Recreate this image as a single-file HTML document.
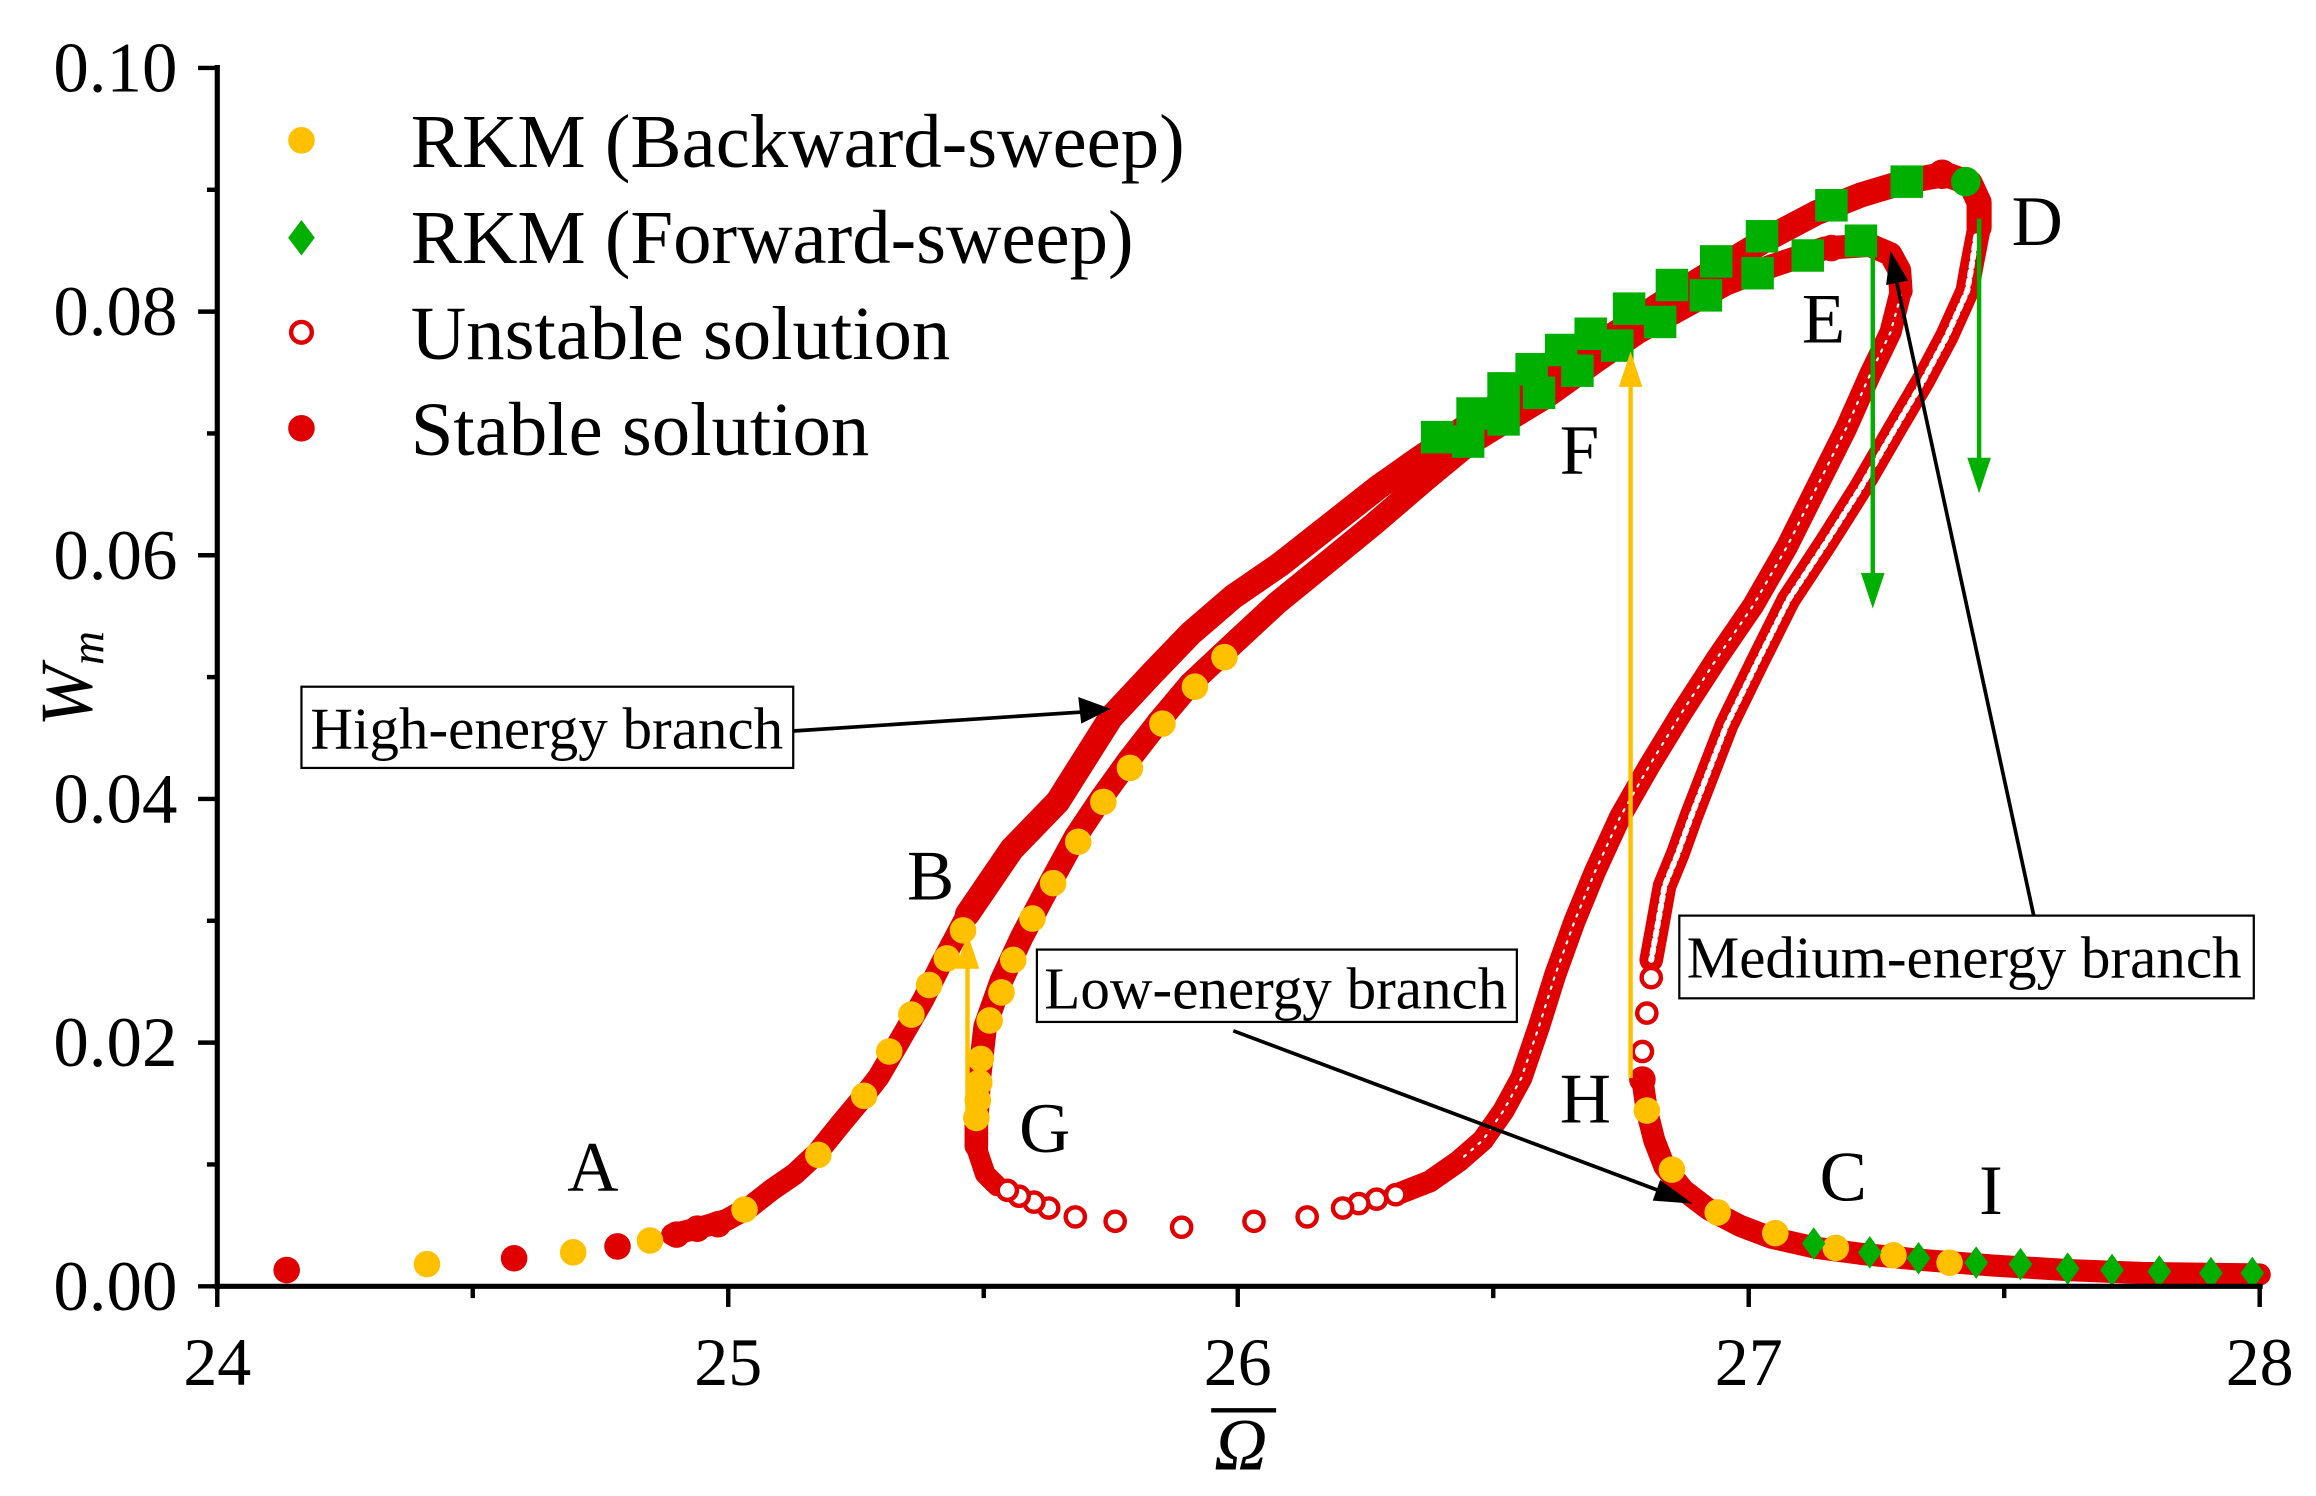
<!DOCTYPE html>
<html><head><meta charset="utf-8"><style>
html,body{margin:0;padding:0;background:#fff}
svg{display:block}
text{font-family:"Liberation Serif",serif;fill:#000}
</style></head><body>
<svg width="2316" height="1496" viewBox="0 0 1568 1013" xmlns="http://www.w3.org/2000/svg">
<g fill="none" stroke-linejoin="round" stroke-linecap="round">
<!-- outer high branch -->
<polyline stroke="#e00000" stroke-width="15" points="455,836 475,831 492,826 508,817 522,806 538,795 553,781 570,760 585,742 595,729 610,703 625,677 637,653 655,619"/>
<polyline stroke="#e00000" stroke-width="17" points="655,619 685,575 716,543 752,486 780,456 806,429 835,404 867,382 900,356 933,330 960,311 988,292 1020,270 1054,249 1080,234 1103,220 1130,202 1163,182 1196,162 1230,144 1260,132 1290,123 1317,118 1334,124 1340,137 1340,154"/>
<!-- inner branch G -> E -->
<polyline stroke="#e00000" stroke-width="16" points="661,776 661,762 663,730 667,695 678,664 692,634 710,600 728,567 746,540 764,515 785,488 806,463 837,434 865,408 897,382 930,355 965,325 994,301 1020,285 1048,268 1080,245 1109,225 1140,208 1169,192 1200,180 1236,168 1266,166 1280,172 1286,183 1287,197"/>
<!-- medium branch (dense unstable) -->
<polyline stroke="#e00000" stroke-width="15" points="1287,197 1280,225 1266,254 1250,290 1230,330 1210,370 1187,410 1163,445 1139,482 1117,518 1097,553 1080,590 1066,624 1053,660 1042,695 1030,730 1018,752 1004,772 988,786 968,800 945,809"/>
<polyline stroke="#fff" stroke-width="1.5" stroke-dasharray="1.5 5" points="1287,200 1280,225 1266,254 1250,290 1230,330 1210,370 1187,410 1163,445 1139,482 1117,518 1097,553 1080,590 1066,624 1053,660 1042,695 1030,730 1018,752 1004,772 988,786"/>
<polyline stroke="#e00000" stroke-width="14" points="661,762 662,780 667,795 675,803"/>
<!-- D unstable branch -->
<polyline stroke="#e00000" stroke-width="16" points="1340,154 1335,180 1332,197 1318,228 1302,258 1282,292 1260,330 1236,368 1211,406 1190,448 1169,491 1157,522 1145,553 1136,578 1127,600 1122,628 1118,650"/>
<polyline stroke="#fff" stroke-width="4" stroke-dasharray="3 3" points="1338,160 1335,180 1332,197 1318,228 1302,258 1282,292 1260,330 1236,368 1211,406 1190,448 1169,491 1157,522 1145,553 1136,578 1127,600 1122,628 1118,650"/>
<!-- right low stable -->
<polyline stroke="#e00000" stroke-width="15" points="1112,731 1115,752 1120,772 1127,790 1140,806 1157,819 1178,830 1199,838 1230,845 1260,849 1300,853 1350,857 1400,860 1450,862 1530,863"/>
</g>
<!-- sparse open circles -->
<g fill="#fff" stroke="#e00000" stroke-width="3">
<circle cx="1118" cy="662" r="6.5"/><circle cx="1115" cy="686" r="6.5"/><circle cx="1112" cy="712" r="6.5"/>
<circle cx="945" cy="809" r="6.5"/><circle cx="932" cy="812" r="6.5"/><circle cx="920" cy="815" r="6.5"/><circle cx="909" cy="818" r="6.5"/><circle cx="885" cy="824" r="6.5"/><circle cx="849" cy="827" r="6.5"/><circle cx="800" cy="831" r="6.5"/><circle cx="755" cy="827" r="6.5"/><circle cx="728" cy="824" r="6.5"/><circle cx="710" cy="818" r="6.5"/><circle cx="700" cy="814" r="6.5"/><circle cx="690" cy="810" r="6.5"/><circle cx="682" cy="806" r="6.5"/>
</g>
<!-- stable sparse -->
<g fill="#e00000">
<circle cx="194" cy="860" r="9"/><circle cx="348" cy="852" r="9"/><circle cx="418" cy="844" r="9"/><circle cx="458" cy="836" r="9"/><circle cx="472" cy="832" r="9"/><circle cx="486" cy="829" r="9"/>
<circle cx="1315" cy="118" r="10"/><circle cx="1240" cy="168" r="9"/><circle cx="1112" cy="731" r="9"/>
</g>
<!-- yellow -->
<g fill="#ffc000">
<circle cx="289" cy="856" r="9"/><circle cx="388" cy="848" r="9"/><circle cx="440" cy="840" r="9"/><circle cx="504" cy="819" r="9"/><circle cx="554" cy="782" r="9"/><circle cx="585" cy="742" r="9"/><circle cx="602" cy="712" r="9"/><circle cx="617" cy="687" r="9"/><circle cx="629" cy="667" r="9"/><circle cx="641" cy="649" r="9"/><circle cx="652" cy="630" r="9"/>
<circle cx="661" cy="757" r="9"/><circle cx="662" cy="745" r="9"/><circle cx="663" cy="733" r="9"/><circle cx="664" cy="717" r="9"/><circle cx="670" cy="691" r="9"/><circle cx="678" cy="672" r="9"/><circle cx="686" cy="650" r="9"/><circle cx="699" cy="622" r="9"/><circle cx="713" cy="598" r="9"/><circle cx="730" cy="570" r="9"/><circle cx="747" cy="543" r="9"/><circle cx="765" cy="520" r="9"/><circle cx="787" cy="490" r="9"/><circle cx="809" cy="465" r="9"/><circle cx="829" cy="445" r="9"/>
<circle cx="1115" cy="752" r="9"/><circle cx="1132" cy="792" r="9"/><circle cx="1163" cy="821" r="9"/><circle cx="1202" cy="835" r="9"/><circle cx="1243" cy="845" r="9"/><circle cx="1282" cy="850" r="9"/><circle cx="1320" cy="855" r="9"/>
</g>
<!-- green -->
<g fill="#00b000">
<polygon points="1228,831 1236,842 1228,853 1220,842"/><polygon points="1266,837 1274,848 1266,859 1258,848"/><polygon points="1299,841 1307,852 1299,863 1291,852"/><polygon points="1338,844 1346,855 1338,866 1330,855"/><polygon points="1368,845 1376,856 1368,867 1360,856"/><polygon points="1400,848 1408,859 1400,870 1392,859"/><polygon points="1430,849 1438,860 1430,871 1422,860"/><polygon points="1462,850 1470,861 1462,872 1454,861"/><polygon points="1497,851 1505,862 1497,873 1489,862"/><polygon points="1525,851 1533,862 1525,873 1517,862"/>
<circle cx="1331" cy="123" r="10"/>
<rect x="962" y="285" width="22" height="22"/><rect x="986" y="269" width="22" height="22"/><rect x="1007" y="252" width="22" height="22"/><rect x="1026" y="239" width="22" height="22"/><rect x="1046" y="226" width="22" height="22"/><rect x="1066" y="215" width="22" height="22"/><rect x="1092" y="198" width="22" height="22"/><rect x="1121" y="182" width="22" height="22"/><rect x="1151" y="166" width="22" height="22"/><rect x="1182" y="149" width="22" height="22"/><rect x="1229" y="128" width="22" height="22"/><rect x="1280" y="112" width="22" height="22"/>
<rect x="983" y="288" width="22" height="22"/><rect x="1007" y="273" width="22" height="22"/><rect x="1031" y="255" width="22" height="22"/><rect x="1057" y="240" width="22" height="22"/><rect x="1084" y="223" width="22" height="22"/><rect x="1113" y="207" width="22" height="22"/><rect x="1144" y="189" width="22" height="22"/><rect x="1179" y="174" width="22" height="22"/><rect x="1213" y="162" width="22" height="22"/><rect x="1249" y="152" width="22" height="22"/>
</g>
<!-- sweep arrows -->
<g stroke-width="3">
<line x1="1104" y1="730" x2="1104" y2="255" stroke="#ffc000"/>
<line x1="655" y1="760" x2="655" y2="650" stroke="#ffc000"/>
<line x1="1268" y1="170" x2="1268" y2="395" stroke="#00b000"/>
<line x1="1340" y1="148" x2="1340" y2="317" stroke="#00b000"/>
</g>
<polygon points="1104,238 1096,262 1112,262" fill="#ffc000"/>
<polygon points="655,632 647,656 663,656" fill="#ffc000"/>
<polygon points="1268,412 1260,388 1276,388" fill="#00b000"/>
<polygon points="1340,334 1332,310 1348,310" fill="#00b000"/>
<!-- axes -->
<g stroke="#000" stroke-width="3.5" fill="none">
<line x1="147" y1="44" x2="147" y2="873"/>
<line x1="145" y1="871" x2="1532" y2="871"/>
</g>
<g stroke="#000" stroke-width="3">
<line x1="147" y1="871" x2="147" y2="885"/><line x1="320" y1="871" x2="320" y2="879"/><line x1="493" y1="871" x2="493" y2="885"/><line x1="666" y1="871" x2="666" y2="879"/><line x1="838" y1="871" x2="838" y2="885"/><line x1="1011" y1="871" x2="1011" y2="879"/><line x1="1184" y1="871" x2="1184" y2="885"/><line x1="1357" y1="871" x2="1357" y2="879"/><line x1="1530" y1="871" x2="1530" y2="885"/>
<line x1="147" y1="871" x2="134" y2="871"/><line x1="147" y1="788.5" x2="140" y2="788.5"/><line x1="147" y1="706" x2="134" y2="706"/><line x1="147" y1="623.5" x2="140" y2="623.5"/><line x1="147" y1="541" x2="134" y2="541"/><line x1="147" y1="458.5" x2="140" y2="458.5"/><line x1="147" y1="376" x2="134" y2="376"/><line x1="147" y1="293.5" x2="140" y2="293.5"/><line x1="147" y1="211" x2="134" y2="211"/><line x1="147" y1="128.5" x2="140" y2="128.5"/><line x1="147" y1="46" x2="134" y2="46"/>
</g>
<g font-size="48" text-anchor="end">
<text x="120" y="887">0.00</text><text x="120" y="722">0.02</text><text x="120" y="557">0.04</text>
<text x="120" y="392">0.06</text><text x="120" y="227">0.08</text><text x="120" y="62">0.10</text>
</g>
<g font-size="46" text-anchor="middle">
<text x="147" y="938">24</text><text x="493" y="938">25</text><text x="838" y="938">26</text>
<text x="1184" y="938">27</text><text x="1530" y="938">28</text>
</g>
<text x="840" y="995" font-size="50" font-style="italic" text-anchor="middle">Ω</text>
<line x1="820" y1="955" x2="864" y2="955" stroke="#000" stroke-width="3"/>
<text transform="translate(62,492) rotate(-90)" font-size="50" font-style="italic">W<tspan font-size="32" dy="8">m</tspan></text>
<!-- legend -->
<circle cx="204" cy="95" r="9" fill="#ffc000"/>
<polygon points="204,149 213,161 204,173 195,161" fill="#00b000"/>
<circle cx="204" cy="225" r="7" fill="#fff" stroke="#e00000" stroke-width="3"/>
<circle cx="204" cy="290" r="9" fill="#e00000"/>
<g font-size="52">
<text x="278" y="113">RKM (Backward-sweep)</text>
<text x="278" y="178">RKM (Forward-sweep)</text>
<text x="278" y="243">Unstable solution</text>
<text x="278" y="308">Stable solution</text>
</g>
<g font-size="48">
<text x="384" y="806">A</text><text x="614" y="609">B</text><text x="690" y="780">G</text>
<text x="1056" y="760">H</text><text x="1232" y="813">C</text><text x="1340" y="822">I</text>
<text x="1056" y="321">F</text><text x="1220" y="232">E</text><text x="1362" y="166">D</text>
</g>
<!-- boxes -->
<g fill="#fff" stroke="#000" stroke-width="1.5">
<rect x="204" y="465" width="333" height="55"/>
<rect x="702" y="643" width="325" height="49"/>
<rect x="1137" y="620" width="389" height="56"/>
</g>
<g font-size="40">
<text x="210" y="507">High-energy branch</text>
<text x="707" y="683">Low-energy branch</text>
<text x="1142" y="662">Medium-energy branch</text>
</g>
<g stroke="#000" stroke-width="2.5">
<line x1="537" y1="495" x2="735" y2="482"/>
<line x1="835" y1="698" x2="1128" y2="808"/>
<line x1="1377" y1="620" x2="1284" y2="190"/>
</g>
<polygon points="752,480 730,472 732,490" fill="#000"/>
<polygon points="1146,815 1124,799 1119,813" fill="#000"/>
<polygon points="1280,170 1277,193 1292,190" fill="#000"/>
</svg>
</body></html>
